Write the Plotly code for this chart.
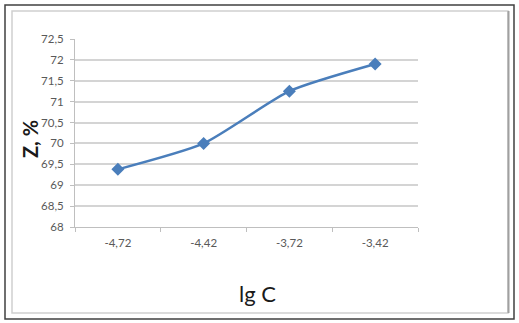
import plotly.graph_objects as go

categories = ["-4,72", "-4,42", "-3,72", "-3,42"]
z_values = [69.38, 70.0, 71.25, 71.9]
y_ticks = [68, 68.5, 69, 69.5, 70, 70.5, 71, 71.5, 72, 72.5]

W, H = 519, 323
L, R, T, B = 75, 418, 39, 227

def px(x):
    return (x - L) / (R - L)

def py(y):
    return (B - y) / (B - T)

fig = go.Figure()
fig.add_trace(go.Scatter(
    x=categories, y=z_values, mode="lines+markers",
    line=dict(color="#4a7ebb", width=2.5, shape="spline", smoothing=0.6),
    marker=dict(symbol="diamond", size=10, color="#4a7ebb"),
    showlegend=False,
))

fig.update_layout(
    width=W, height=H,
    margin=dict(l=L, r=W - R, t=T, b=H - B),
    paper_bgcolor="white", plot_bgcolor="white",
    separators=",.",
    font=dict(family="Lato, Open Sans, sans-serif", color="#595959", size=11),
    xaxis=dict(
        type="category", range=[-0.5, 3.5], showgrid=False,
        showline=True, linecolor="#bfbfbf", linewidth=1,
        ticks="outside", tickson="boundaries", ticklen=4, tickcolor="#bfbfbf",
        tickfont=dict(size=11.5, color="#595959"), ticklabelstandoff=5,
    ),
    yaxis=dict(
        range=[68, 72.5], tickvals=y_ticks, showgrid=True, gridcolor="#d4d4d4", gridwidth=1.5,
        showline=True, linecolor="#bfbfbf", linewidth=1,
        ticks="outside", ticklen=4, tickcolor="#bfbfbf",
        tickfont=dict(size=11.5, color="#595959"), zeroline=False, ticklabelstandoff=4,
    ),
    annotations=[
        dict(text="<b>Z, %</b>", xref="paper", yref="paper", x=px(30), y=py(139),
             xanchor="center", yanchor="middle",
             showarrow=False, textangle=-90, font=dict(size=20, color="#1a1a1a",
             family="Lato, Open Sans, sans-serif")),
        dict(text="lg C", xref="paper", yref="paper", x=px(257), y=py(293),
             xanchor="center", yanchor="middle",
             showarrow=False, font=dict(size=22, color="#1a1a1a",
             family="Lato, Open Sans, sans-serif")),
    ],
    shapes=[
        dict(type="rect", xref="paper", yref="paper", x0=px(5), x1=px(514), y0=py(5), y1=py(319),
             line=dict(color="#404040", width=1.5), layer="below"),
        dict(type="rect", xref="paper", yref="paper", x0=px(12), x1=px(508), y0=py(11), y1=py(313),
             line=dict(color="#d0d0d0", width=1.5), layer="below"),
        dict(type="line", xref="paper", yref="paper", x0=px(508.5), x1=px(508.5), y0=py(11), y1=py(313),
             line=dict(color="#a0a0a0", width=2), layer="below"),
    ],
)

fig.write_html("out.html")
